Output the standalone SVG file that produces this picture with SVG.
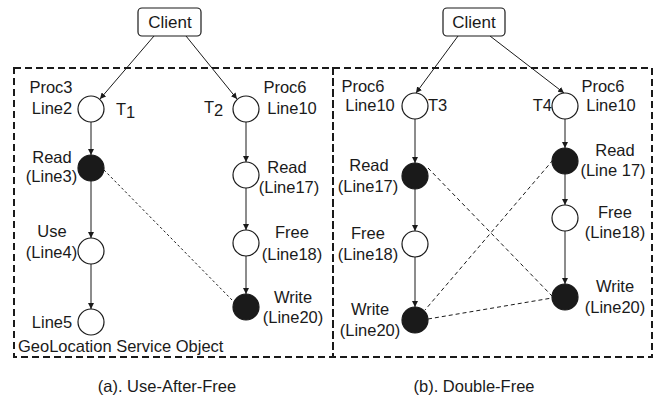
<svg xmlns="http://www.w3.org/2000/svg" width="658" height="400" viewBox="0 0 658 400">
<style>
text{font-family:"Liberation Sans",Arial,sans-serif;font-size:16.5px;fill:#1a1a1a}
.m{text-anchor:middle}
.e{text-anchor:end}
.client{fill:#fff;stroke:#1a1a1a;stroke-width:1.2}
.box{fill:none;stroke:#1a1a1a;stroke-width:2;stroke-dasharray:7,4}
.open{fill:#fff;stroke:#1a1a1a;stroke-width:1.2}
.fill{fill:#1a1a1a;stroke:#1a1a1a;stroke-width:1.2}
.arr{fill:none;stroke:#1a1a1a;stroke-width:1;marker-end:url(#ah)}
.dot{fill:none;stroke:#1a1a1a;stroke-width:1;stroke-dasharray:2.5,2.5}
.dash{fill:none;stroke:#1a1a1a;stroke-width:1;stroke-dasharray:4,3}
</style>
<defs>
<marker id="ah" viewBox="0 0 10 10" refX="10" refY="5" markerWidth="6" markerHeight="6" orient="auto" markerUnits="userSpaceOnUse">
<path d="M0,0 L10,5 L0,10 z" fill="#1a1a1a"/>
</marker>
</defs>
<g id="frames">
<rect class="box" x="14" y="68" width="319" height="289"/>
<rect class="box" x="333" y="68" width="319" height="289"/>
</g>
<g id="connectors">
<line class="arr" x1="154" y1="36" x2="100" y2="99"/>
<line class="arr" x1="186" y1="36" x2="237" y2="99"/>
<line class="arr" x1="91" y1="122" x2="91" y2="155"/>
<line class="arr" x1="91" y1="181" x2="91" y2="238"/>
<line class="arr" x1="91" y1="264" x2="91" y2="309"/>
<line class="arr" x1="246" y1="122" x2="246" y2="162"/>
<line class="arr" x1="246" y1="188" x2="246" y2="230"/>
<line class="arr" x1="246" y1="256" x2="246" y2="294"/>
<line class="dot" x1="104" y1="170" x2="234" y2="302"/>
<line class="arr" x1="458" y1="36" x2="416" y2="93"/>
<line class="arr" x1="490" y1="36" x2="564" y2="93"/>
<line class="arr" x1="415" y1="119" x2="415" y2="163"/>
<line class="arr" x1="415" y1="189" x2="415" y2="231"/>
<line class="arr" x1="415" y1="257" x2="415" y2="307"/>
<line class="arr" x1="565" y1="119" x2="565" y2="148"/>
<line class="arr" x1="565" y1="174" x2="565" y2="205"/>
<line class="arr" x1="565" y1="231" x2="565" y2="284"/>
<line class="dash" x1="428" y1="168" x2="552" y2="296"/>
<line class="dash" x1="553" y1="160" x2="425" y2="310"/>
<line class="dash" x1="428" y1="319" x2="552" y2="298"/>
</g>
<g id="client-a"><rect class="client" x="138" y="8" width="63" height="28" rx="4"/><text class="m" x="170" y="28" style="font-size:17px">Client</text></g>
<g id="a-t1"><circle class="open" cx="91" cy="109" r="13"/><text class="m" x="51" y="93">Proc3</text><text class="m" x="52" y="114">Line2</text><text x="116" y="115">T<tspan dy="3">1</tspan></text></g>
<g id="a-read3"><circle class="fill" cx="91" cy="168" r="13"/><text class="m" x="52" y="163">Read</text><text class="m" x="51.5" y="182">(Line3)</text></g>
<g id="a-use4"><circle class="open" cx="91" cy="251" r="13"/><text class="m" x="52" y="237">Use</text><text class="m" x="51.5" y="258">(Line4)</text></g>
<g id="a-line5"><circle class="open" cx="91" cy="322" r="13"/><text class="m" x="52" y="328">Line5</text></g>
<g id="a-t2"><circle class="open" cx="246" cy="109" r="13"/><text x="204" y="113">T<tspan dy="3">2</tspan></text><text class="m" x="285" y="93">Proc6</text><text class="m" x="292" y="114">Line10</text></g>
<g id="a-read17"><circle class="open" cx="246" cy="175" r="13"/><text class="m" x="287" y="173">Read</text><text class="m" x="289" y="193">(Line17)</text></g>
<g id="a-free18"><circle class="open" cx="246" cy="243" r="13"/><text class="m" x="292" y="238">Free</text><text class="m" x="292" y="260">(Line18)</text></g>
<g id="a-write20"><circle class="fill" cx="246" cy="307" r="13"/><text class="m" x="293" y="303">Write</text><text class="m" x="293" y="323">(Line20)</text></g>
<text x="18" y="352">GeoLocation Service Object</text>
<text class="m" x="167" y="392">(a). Use-After-Free</text>
<g id="client-b"><rect class="client" x="443" y="8" width="62" height="28" rx="4"/><text class="m" x="474" y="28" style="font-size:17px">Client</text></g>
<g id="b-t3"><circle class="open" cx="415" cy="106" r="13"/><text class="m" x="363" y="92">Proc6</text><text class="m" x="370" y="111">Line10</text><text x="428" y="111">T3</text></g>
<g id="b-read-t3"><circle class="fill" cx="415" cy="176" r="13"/><text class="m" x="369" y="171">Read</text><text class="m" x="368" y="192">(Line17)</text></g>
<g id="b-free-t3"><circle class="open" cx="415" cy="244" r="13"/><text class="m" x="368" y="239">Free</text><text class="m" x="368" y="260">(Line18)</text></g>
<g id="b-write-t3"><circle class="fill" cx="415" cy="320" r="13"/><text class="m" x="370" y="315">Write</text><text class="m" x="370" y="336">(Line20)</text></g>
<g id="b-t4"><circle class="open" cx="565" cy="106" r="13"/><text class="e" x="552" y="111">T4</text><text class="m" x="603" y="92">Proc6</text><text class="m" x="611" y="111">Line10</text></g>
<g id="b-read-t4"><circle class="fill" cx="565" cy="161" r="13"/><text class="m" x="615" y="156">Read</text><text class="m" x="613" y="176">(Line 17)</text></g>
<g id="b-free-t4"><circle class="open" cx="565" cy="218" r="13"/><text class="m" x="615" y="218">Free</text><text class="m" x="615" y="238">(Line18)</text></g>
<g id="b-write-t4"><circle class="fill" cx="565" cy="297" r="13"/><text class="m" x="615" y="292">Write</text><text class="m" x="615" y="313">(Line20)</text></g>
<text class="m" x="474" y="392">(b). Double-Free</text>
</svg>
